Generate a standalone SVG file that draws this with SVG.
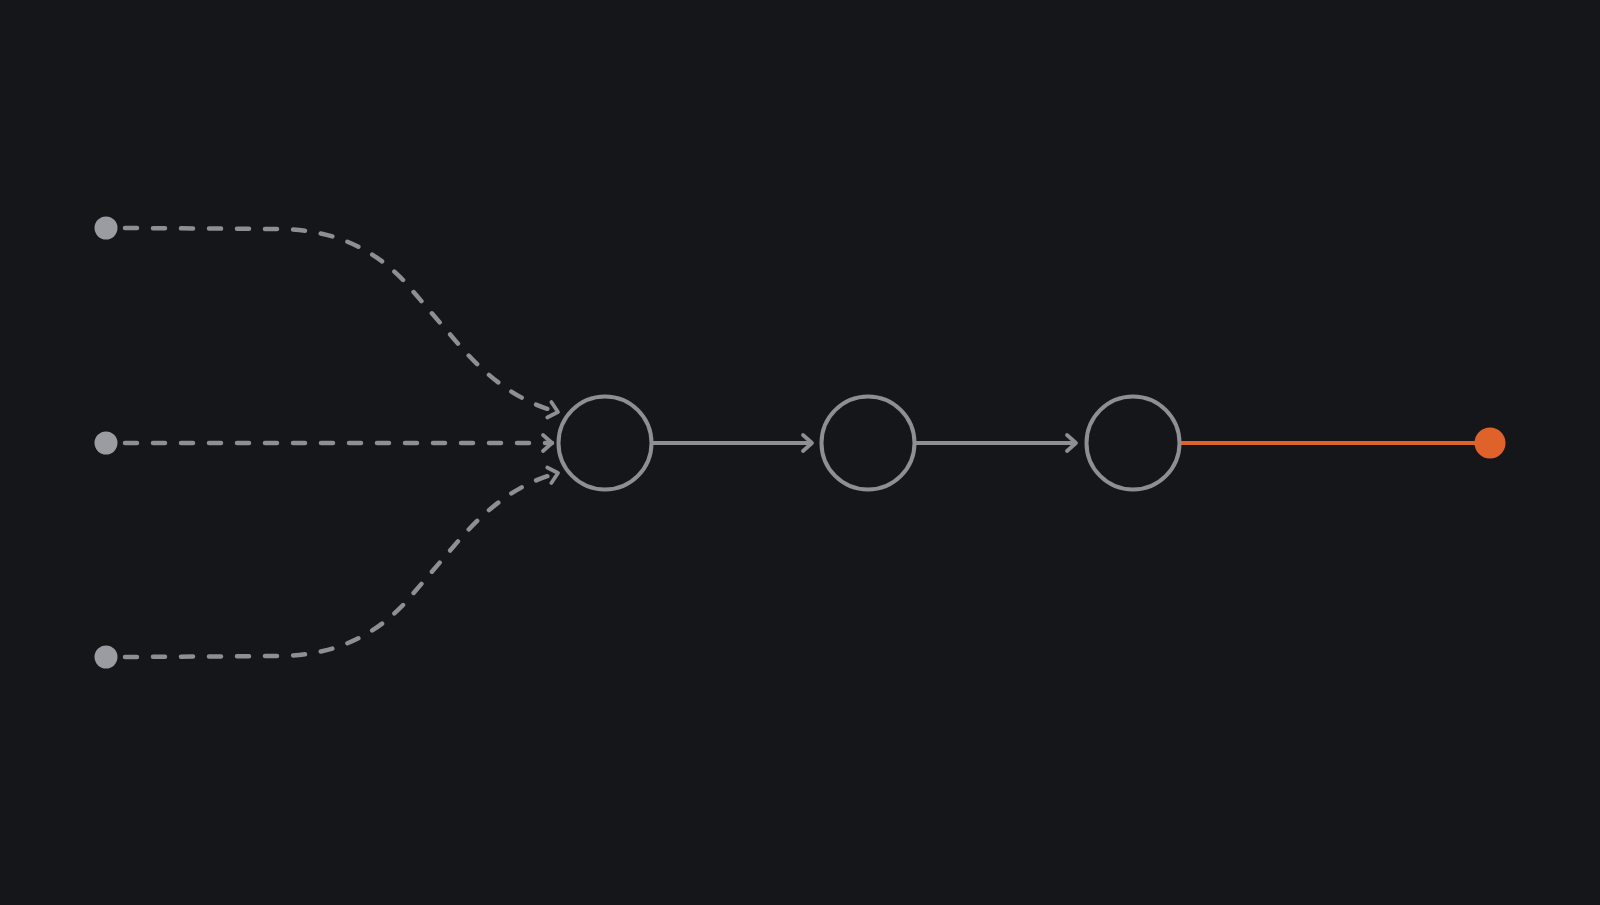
<svg xmlns="http://www.w3.org/2000/svg" width="1600" height="905" viewBox="0 0 1600 905">
  <defs>
    <marker id="arrow" viewBox="0 0 24 24" refX="17" refY="12" markerWidth="24" markerHeight="24" markerUnits="userSpaceOnUse" orient="auto">
      <path d="M8 4 L17 12 L8 20" fill="none" stroke="#8e8f94" stroke-width="3.8" stroke-linecap="round" stroke-linejoin="round"/>
    </marker>
    <style>
      .dash { fill: none; stroke: #8e8f94; stroke-width: 4.5; stroke-linecap: round; stroke-dasharray: 12 16; }
      .solid { fill: none; stroke: #8e8f94; stroke-width: 3.8; }
      .node { fill: none; stroke: #8e8f94; stroke-width: 4; }
      .src { fill: #9b9ca1; }
    </style>
  </defs>
  <rect width="1600" height="905" fill="#15161a"/>
  <g id="connectors">
    <path class="dash" d="M125 228 L280 229 C330 230 370 245 405 282 L460 346 C490 380 520 402 558 412" marker-end="url(#arrow)"/>
    <path class="dash" d="M125 443 L552 443" marker-end="url(#arrow)"/>
    <path class="dash" d="M125 657 L280 656 C330 655 370 640 405 603 L460 539 C490 505 520 483 558 473" marker-end="url(#arrow)"/>
    <path class="solid" d="M653 443 L812 443" marker-end="url(#arrow)"/>
    <path class="solid" d="M915 443 L1076 443" marker-end="url(#arrow)"/>
    <path d="M1180 443 L1490 443" fill="none" stroke="#e0622b" stroke-width="4"/>
  </g>
  <g id="source-1"><circle class="src" cx="106" cy="228" r="11.5"/></g>
  <g id="source-2"><circle class="src" cx="106" cy="443" r="11.5"/></g>
  <g id="source-3"><circle class="src" cx="106" cy="657" r="11.5"/></g>
  <g id="node-1"><circle class="node" cx="605" cy="443" r="46.5"/></g>
  <g id="node-2"><circle class="node" cx="868" cy="443" r="46.5"/></g>
  <g id="node-3"><circle class="node" cx="1133" cy="443" r="46.5"/></g>
  <g id="output"><circle cx="1490" cy="443" r="15.5" fill="#e0622b"/></g>
</svg>
